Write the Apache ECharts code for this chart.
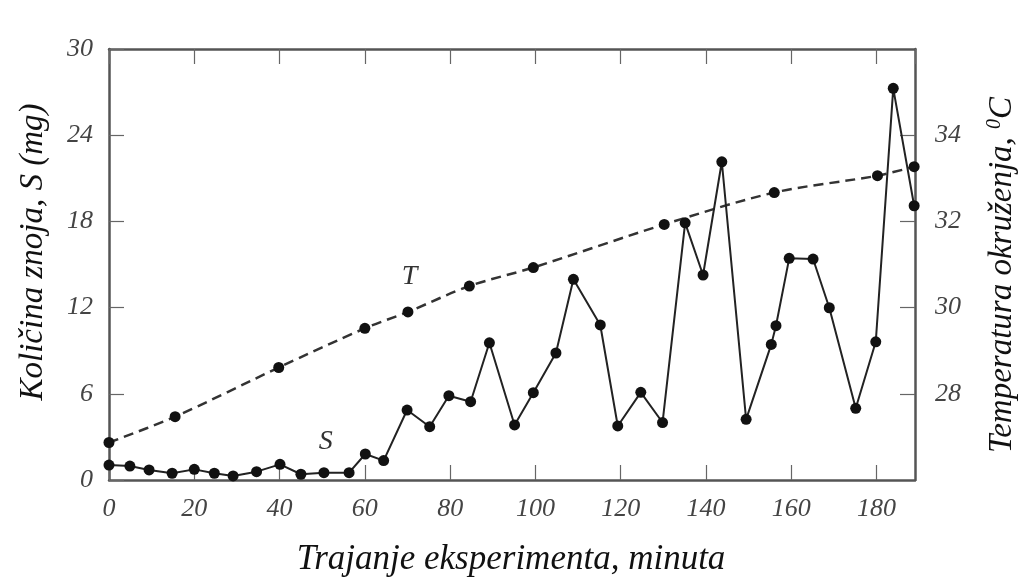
<!DOCTYPE html>
<html>
<head>
<meta charset="utf-8">
<script src="https://cdn.jsdelivr.net/npm/echarts@6/dist/echarts.min.js"></script>
<style>
  html, body { margin: 0; padding: 0; background: #fff; }
  #chart { width: 1021px; height: 580px; }
</style>
</head>
<body>
<div id="chart"></div>
<script>
// S - kolicina znoja (mg), T - temperatura okruzenja (C)
const sTime = [0, 4.9, 9.4, 14.8, 20, 24.7, 29.1, 34.6, 40.1, 45, 50.4, 56.3, 60.1, 64.4, 69.9, 75.2, 79.7, 84.8, 89.2, 95.1,
  99.5, 104.8, 108.9, 115.2, 119.3, 124.7, 129.8, 135.1, 139.3, 143.7, 149.4, 155.3, 156.4, 159.5, 165.1, 168.9, 175.1, 179.8, 183.9, 188.8];
const sValue = [1.04, 0.97, 0.7, 0.47, 0.74, 0.47, 0.28, 0.58, 1.09, 0.4, 0.51, 0.51, 1.81, 1.35, 4.87, 3.71, 5.87, 5.45, 9.55, 3.83,
  6.08, 8.84, 13.97, 10.79, 3.76, 6.1, 4.0, 17.9, 14.27, 22.15, 4.22, 9.44, 10.74, 15.43, 15.38, 11.99, 4.99, 9.62, 27.26, 19.09];

const tTime = [0, 15.5, 39.8, 60, 70.1, 84.5, 99.5, 130.2, 156, 180.2, 188.8];
const tValue = [26.87, 27.47, 28.61, 29.52, 29.9, 30.5, 30.93, 31.93, 32.67, 33.06, 33.27];

const FONT = "'Liberation Serif', 'DejaVu Serif', serif";
const AXIS_COLOR = "#555";

const chart = echarts.init(document.getElementById("chart"));

const axisCommon = {
  axisLine: { show: true, onZero: false, lineStyle: { color: AXIS_COLOR, width: 2.5 } },
  axisTick: { show: true, inside: true, length: 15, lineStyle: { color: "#666", width: 1.2 } },
  splitLine: { show: false },
};
const labelStyle = {
  fontFamily: FONT,
  fontStyle: "italic",
  fontSize: 26,
  color: "#444",
};

const option = {
  animation: false,
  backgroundColor: "#fff",
  grid: { left: 109, right: 106, top: 49, bottom: 100 },
  xAxis: [
    {
      type: "value",
      min: 0,
      max: 189,
      interval: 20,
      position: "bottom",
      ...axisCommon,
      axisLabel: { ...labelStyle, margin: 16, showMaxLabel: false },
    },
    {
      type: "value",
      min: 0,
      max: 189,
      interval: 20,
      position: "top",
      ...axisCommon,
      axisLabel: { show: false },
    },
  ],
  yAxis: [
    {
      type: "value",
      min: 0,
      max: 30,
      interval: 6,
      position: "left",
      ...axisCommon,
      axisLabel: { ...labelStyle, margin: 16 },
    },
    {
      type: "value",
      min: 26,
      max: 36,
      interval: 2,
      position: "right",
      ...axisCommon,
      axisLabel: { ...labelStyle, margin: 20, showMinLabel: false, showMaxLabel: false },
    },
  ],
  series: [
    {
      name: "T",
      type: "line",
      xAxisIndex: 0,
      yAxisIndex: 1,
      data: tTime.map((t, i) => [t, tValue[i]]),
      smooth: 0.3,
      symbol: "circle",
      symbolSize: 11,
      itemStyle: { color: "#111" },
      lineStyle: { color: "#333", width: 2.5, type: [10, 6] },
      clip: false,
      markPoint: {
        symbol: "circle",
        symbolSize: 0,
        label: {
          show: true,
          position: "inside",
          formatter: "T",
          fontFamily: FONT,
          fontStyle: "italic",
          fontSize: 28,
          color: "#333",
        },
        data: [{ coord: [70.5, 30.72] }],
      },
    },
    {
      name: "S",
      type: "line",
      xAxisIndex: 0,
      yAxisIndex: 0,
      data: sTime.map((t, i) => [t, sValue[i]]),
      symbol: "circle",
      symbolSize: 11,
      itemStyle: { color: "#111" },
      lineStyle: { color: "#222", width: 2 },
      clip: false,
      markPoint: {
        symbol: "circle",
        symbolSize: 0,
        label: {
          show: true,
          position: "inside",
          formatter: "S",
          fontFamily: FONT,
          fontStyle: "italic",
          fontSize: 28,
          color: "#333",
        },
        data: [{ coord: [50.8, 2.7] }],
      },
    },
  ],
  graphic: [
    {
      type: "text",
      x: 33,
      y: 252,
      rotation: Math.PI / 2,
      style: {
        text: "Količina znoja, S (mg)",
        font: "italic 33px " + FONT,
        fill: "#111",
        align: "center",
        verticalAlign: "middle",
      },
    },
    {
      type: "text",
      x: 1002,
      y: 275,
      rotation: Math.PI / 2,
      style: {
        text: "{n|Temperatura okruženja, }{s|0}{n|C}",
        align: "center",
        verticalAlign: "middle",
        rich: {
          n: { font: "italic 33px " + FONT, fill: "#111" },
          s: { font: "italic 20px " + FONT, fill: "#111", padding: [0, 0, 15, 0] },
        },
      },
    },
    {
      type: "text",
      x: 511,
      y: 560,
      style: {
        text: "Trajanje eksperimenta, minuta",
        font: "italic 35px " + FONT,
        fill: "#111",
        align: "center",
        verticalAlign: "middle",
      },
    },
  ],
};

chart.setOption(option);
</script>
</body>
</html>
